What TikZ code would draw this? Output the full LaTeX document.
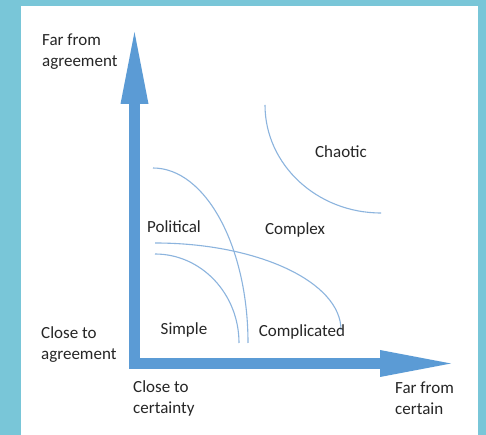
\documentclass[tikz,border=0pt]{standalone}
\usepackage{fontspec}
\setmainfont{Carlito}
\usetikzlibrary{arrows.meta}
\definecolor{frameblue}{RGB}{121,198,216}
\definecolor{axisblue}{RGB}{91,155,213}
\definecolor{lineblue}{RGB}{140,180,222}

\begin{document}
\begin{tikzpicture}[
  x=1pt, y=1pt,
  every node/.style = {font=\fontsize{17}{21}\selectfont, text=black!85, inner sep=0pt},
  axis/.style = {draw=axisblue, line width=11pt, line join=miter},
  zone/.style = {draw=lineblue, line width=1.1pt},
  tag/.style = {align=left, anchor=west}
]
  \useasboundingbox (0,0) rectangle (486,435);
  \fill[frameblue] (0,0) rectangle (486,435);
  \fill[white] (21,0) rectangle (478,429);

  \coordinate (ytop) at (134.5,403);
  \coordinate (origin) at (134.5,71.5);
  \coordinate (xend) at (451,71.5);
  \draw[axis, {Triangle[width=28pt,length=72pt,line width=0pt]}-{Triangle[width=27pt,length=71pt,line width=0pt]}]
    (ytop) -- (origin) -- (xend);

  % boundaries
  \draw[zone] (265,330) arc[start angle=180, end angle=270, x radius=116pt, y radius=108pt];
  \draw[zone] (153,267) arc[start angle=90, end angle=0, x radius=95pt, y radius=175pt];
  \draw[zone] (155,181) arc[start angle=90, end angle=0, x radius=84pt, y radius=89pt];
  \draw[zone] (155,192) arc[start angle=90, end angle=0, x radius=186pt, y radius=87pt];

  \node[tag] (faragree) at (42,383) {Far from\\agreement};
  \node[tag] (closeagree) at (41,90) {Close to\\agreement};
  \node[tag] (closecert) at (133,37) {Close to\\certainty};
  \node[tag] (farcert) at (395,37) {Far from\\certain};

  \node (chaotic) at (341,283) {Chaotic};
  \node (political) at (174,208) {Political};
  \node (complex) at (295,205) {Complex};
  \node (simple) at (184,105) {Simple};
  \node (complicated) at (302,103) {Complicated};
\end{tikzpicture}
\end{document}
